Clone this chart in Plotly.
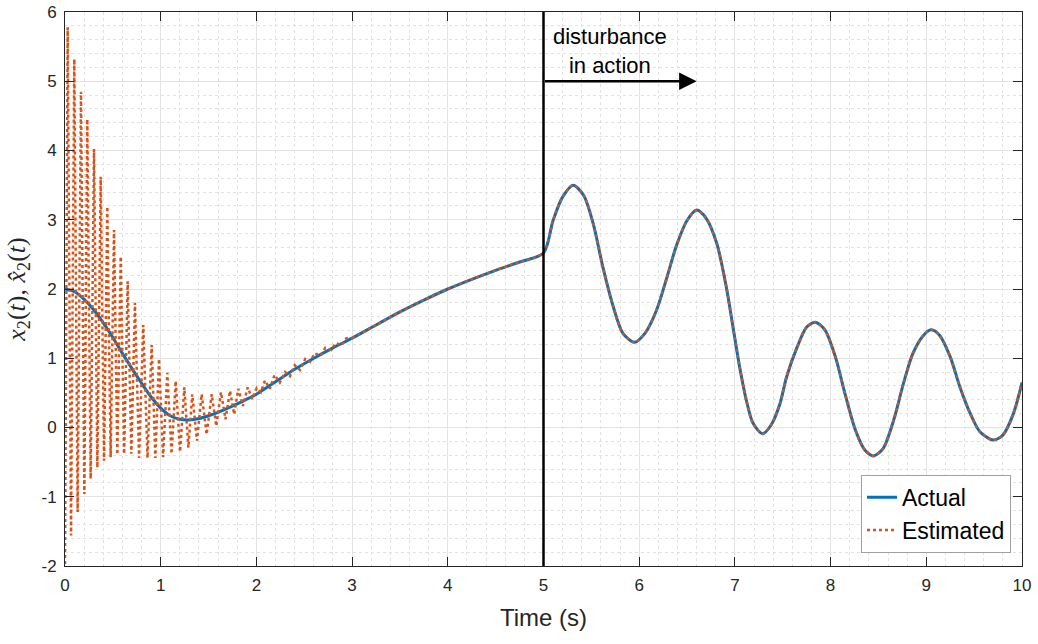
import plotly.graph_objects as go

# ---- data ----
actual_t = [0.0, 0.1, 0.2, 0.3, 0.4, 0.5, 0.6, 0.7, 0.8, 0.9, 1.0, 1.1, 1.2, 1.3, 1.4, 1.5,
            1.6, 1.7, 1.8, 1.9, 2.0, 2.2, 2.4, 2.6, 2.8, 3.0, 3.25, 3.5, 3.75, 4.0, 4.25,
            4.5, 4.75, 5.0, 5.1, 5.2, 5.31, 5.42, 5.52, 5.62, 5.73, 5.83, 5.95, 6.06, 6.18,
            6.29, 6.39, 6.5, 6.6, 6.7, 6.81, 6.91, 6.98, 7.05, 7.12, 7.19, 7.29, 7.38, 7.47,
            7.54, 7.65, 7.75, 7.84, 7.94, 8.05, 8.15, 8.26, 8.36, 8.45, 8.55, 8.66, 8.76,
            8.86, 8.97, 9.05, 9.14, 9.25, 9.35, 9.46, 9.56, 9.7, 9.8, 9.91, 10.0]
actual_y = [2.00, 1.96, 1.85, 1.70, 1.51, 1.30, 1.07, 0.85, 0.64, 0.44, 0.28, 0.17, 0.12,
            0.11, 0.13, 0.17, 0.22, 0.28, 0.34, 0.41, 0.48, 0.66, 0.84, 1.00, 1.15, 1.29,
            1.48, 1.67, 1.84, 2.00, 2.14, 2.27, 2.39, 2.52, 2.99, 3.33, 3.50, 3.35, 2.94,
            2.32, 1.74, 1.36, 1.23, 1.36, 1.69, 2.17, 2.63, 2.99, 3.14, 3.02, 2.66, 2.03,
            1.45, 0.87, 0.39, 0.06, -0.09, 0.04, 0.34, 0.73, 1.16, 1.45, 1.52, 1.41, 1.02,
            0.49, -0.04, -0.33, -0.41, -0.30, 0.11, 0.63, 1.07, 1.33, 1.41, 1.33, 1.02,
            0.59, 0.20, -0.06, -0.18, -0.11, 0.20, 0.65]

# oscillating part of the estimate (peaks / troughs)
est_osc_t = [0.000, 0.028, 0.063, 0.097, 0.132, 0.167, 0.202, 0.233, 0.268, 0.303, 0.338,
             0.373, 0.408, 0.442, 0.477, 0.512, 0.547, 0.582, 0.618, 0.655, 0.693, 0.731,
             0.774, 0.818, 0.862, 0.906, 0.944, 0.982, 1.025, 1.069, 1.113, 1.157, 1.202,
             1.247, 1.289, 1.330, 1.379, 1.428, 1.480, 1.533, 1.581, 1.630, 1.677, 1.724,
             1.768, 1.811, 1.860, 1.909, 1.956, 2.003, 2.047, 2.090, 2.140, 2.190, 2.245,
             2.300, 2.350, 2.400, 2.455, 2.510, 2.560, 2.610, 2.670, 2.720, 2.780, 2.830,
             2.890, 2.940, 3.000]
est_osc_y = [-1.97, 5.78, -1.56, 5.32, -1.22, 4.85, -0.96, 4.45, -0.74, 4.02, -0.58,
             3.62, -0.48, 3.19, -0.43, 2.85, -0.39, 2.47, -0.38, 2.11, -0.38, 1.80,
             -0.44, 1.48, -0.44, 1.19, -0.44, 0.99, -0.43, 0.79, -0.38, 0.67, -0.35,
             0.58, -0.29, 0.48, -0.19, 0.48, -0.10, 0.48, 0.02, 0.51, 0.12, 0.53,
             0.19, 0.56, 0.31, 0.58, 0.41, 0.57, 0.51, 0.68, 0.56, 0.76, 0.65,
             0.80, 0.74, 0.90, 0.83, 0.99, 0.95, 1.07, 1.04, 1.15, 1.12, 1.22,
             1.19, 1.29, 1.29]
# after t = 3 the estimate lies on the actual curve
est_smooth_t = [t for t in actual_t if t >= 3.0]
est_smooth_y = [y for t, y in zip(actual_t, actual_y) if t >= 3.0]

disturbance_t = 5.0
arrow_end_t = 6.6
arrow_y = 5.0
x_ticks = list(range(0, 11))
x_ticktext = [str(v) for v in x_ticks]
y_ticks = list(range(-2, 7))
y_ticktext = [str(v) for v in y_ticks]  # keeps ASCII hyphen-minus like the reference

BLUE = "#0072BD"
ORANGE = "#D95319"
FONT = "Liberation Sans, Arial, Helvetica"

fig = go.Figure()
fig.add_trace(go.Scatter(x=actual_t, y=actual_y, mode="lines", name="Actual",
                         line=dict(color=BLUE, width=3, shape="spline", smoothing=0.8),
                         legendgroup="a"))
fig.add_trace(go.Scatter(x=est_osc_t, y=est_osc_y, mode="lines", name="Estimated",
                         line=dict(color=ORANGE, width=2.5, dash="dot"),
                         legendgroup="e"))
fig.add_trace(go.Scatter(x=est_smooth_t, y=est_smooth_y, mode="lines", name="Estimated",
                         line=dict(color=ORANGE, width=2.5, dash="dot", shape="spline",
                                   smoothing=0.8),
                         legendgroup="e", showlegend=False))

fig.add_shape(type="line", xref="x", yref="paper", x0=disturbance_t, x1=disturbance_t,
              y0=0, y1=1, line=dict(color="black", width=2.5))

fig.add_annotation(x=arrow_end_t, y=arrow_y, ax=disturbance_t, ay=arrow_y,
                   xref="x", yref="y", axref="x", ayref="y", text="",
                   showarrow=True, arrowhead=2, arrowsize=1.4, arrowwidth=2.5,
                   arrowcolor="black")
fig.add_annotation(x=5.69, y=5.44, xref="x", yref="y",
                   text="disturbance<br>in action",
                   showarrow=False, align="center",
                   font=dict(size=22, color="black", family=FONT),
                   yanchor="middle")

axis_common = dict(
    showline=True, linecolor="#262626", linewidth=1, mirror="allticks",
    ticks="inside", ticklen=9, tickcolor="#262626",
    showgrid=True, gridcolor="#e3e3e3", gridwidth=1,
    zeroline=False, automargin=False, ticklabelstandoff=4,
    tickfont=dict(size=17, color="#262626", family=FONT),
)

fig.update_xaxes(range=[0, 10], tickvals=x_ticks, ticktext=x_ticktext,
                 minor=dict(dtick=0.2, showgrid=True, gridcolor="#e2e2e2",
                            griddash="dot", gridwidth=1, ticks=""),
                 title=dict(text="Time (s)", standoff=14,
                            font=dict(size=24, color="#262626", family=FONT)),
                 **axis_common)
fig.update_yaxes(range=[-2, 6], tickvals=y_ticks, ticktext=y_ticktext,
                 minor=dict(dtick=0.2, showgrid=True, gridcolor="#e2e2e2",
                            griddash="dot", gridwidth=1, ticks=""),
                 title=dict(text="<i>x</i><sub>2</sub>(<i>t</i>), <i>x̂</i><sub>2</sub>(<i>t</i>)",
                            standoff=8,
                            font=dict(size=26, color="#262626",
                                      family="Liberation Serif, Times New Roman, serif")),
                 **axis_common)

fig.update_layout(
    width=1038, height=644,
    margin=dict(l=65, r=16, t=12, b=78),
    plot_bgcolor="white", paper_bgcolor="white",
    legend=dict(x=0.9885, y=0.024, xanchor="right", yanchor="bottom",
                bgcolor="white", bordercolor="#a0a0a0", borderwidth=1,
                font=dict(size=23, color="black", family=FONT),
                tracegroupgap=0, itemwidth=30),
    showlegend=True,
)

fig.write_html("out.html")
